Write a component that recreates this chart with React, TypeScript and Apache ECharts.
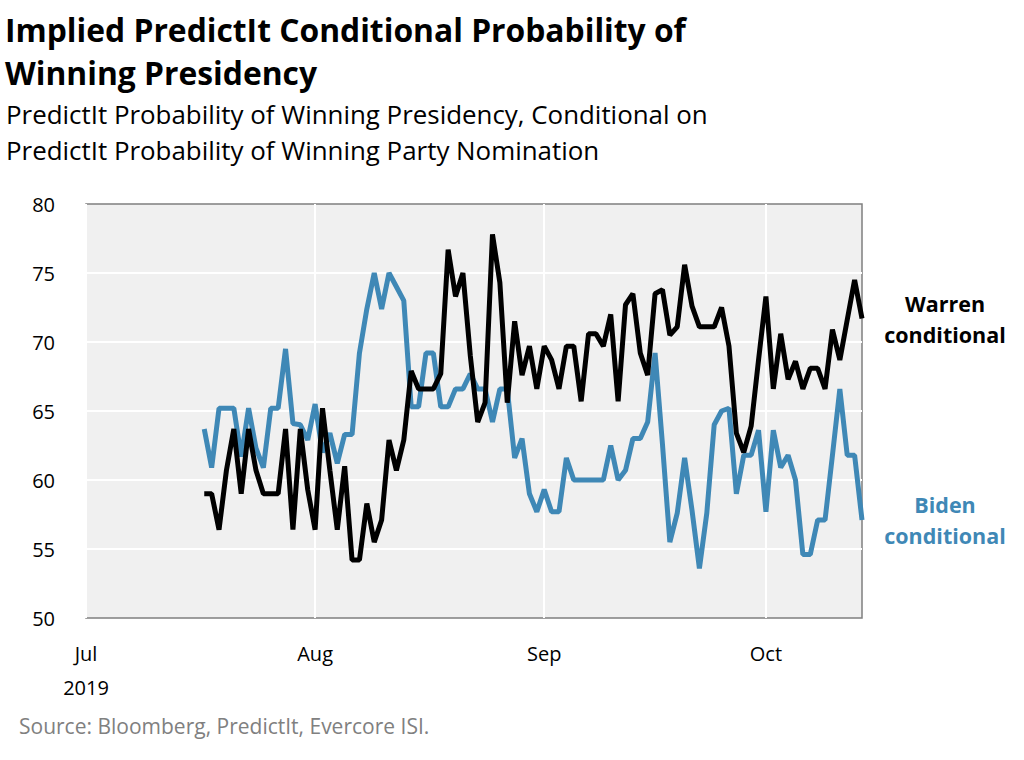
import React, { useEffect, useRef } from 'react';
import * as echarts from 'echarts';

const FONT = '"Open Sans", "Noto Sans", sans-serif';

const titleLines = ['Implied PredictIt Conditional Probability of', 'Winning Presidency'];
const subtitleLines = [
  'PredictIt Probability of Winning Presidency, Conditional on',
  'PredictIt Probability of Winning Party Nomination',
];
const sourceText = 'Source: Bloomberg, PredictIt, Evercore ISI.';

const firstDay = '2019-07-17';
const axisStart = '2019-07-01';
const axisEnd = '2019-10-14';
const monthNames = ['Jan', 'Feb', 'Mar', 'Apr', 'May', 'Jun', 'Jul', 'Aug', 'Sep', 'Oct', 'Nov', 'Dec'];
const yearLabel = '2019';

const yMin = 50;
const yMax = 80;
const yStep = 5;

const warrenName = 'Warren\nconditional';
const bidenName = 'Biden\nconditional';

const warren = [
  59.0, 59.0, 56.4, 60.7, 63.7, 59.0, 63.7, 60.7, 59.0, 59.0,
  59.0, 63.7, 56.4, 63.7, 59.3, 56.4, 65.2, 60.7, 56.4, 61.0,
  54.2, 54.2, 58.3, 55.5, 57.1, 62.9, 60.7, 62.9, 67.9, 66.6,
  66.6, 66.6, 67.7, 76.7, 73.3, 75.0, 69.0, 64.2, 65.6, 77.8,
  74.3, 65.6, 71.5, 67.6, 69.7, 66.6, 69.7, 68.7, 66.6, 69.7,
  69.7, 65.7, 70.6, 70.6, 69.7, 72.0, 65.7, 72.7, 73.5, 69.2,
  67.6, 73.5, 73.8, 70.5, 71.1, 75.6, 72.6, 71.1, 71.1, 71.1,
  72.5, 69.7, 63.4, 62.0, 63.9, 68.7, 73.3, 66.6, 70.6, 67.3,
  68.6, 66.6, 68.1, 68.1, 66.6, 70.9, 68.7, 71.6, 74.5, 71.7,
];

const biden = [
  63.7, 60.9, 65.2, 65.2, 65.2, 61.7, 65.2, 62.3, 60.9, 65.2,
  65.2, 69.5, 64.1, 64.0, 62.9, 65.5, 62.0, 63.4, 61.2, 63.3,
  63.3, 69.2, 72.4, 75.0, 72.4, 75.0, 74.0, 73.0, 65.3, 65.3,
  69.2, 69.2, 65.3, 65.3, 66.6, 66.6, 67.7, 66.6, 66.6, 64.2,
  66.6, 66.6, 61.6, 63.0, 59.0, 57.7, 59.3, 57.7, 57.7, 61.6,
  60.0, 60.0, 60.0, 60.0, 60.0, 62.5, 60.0, 60.7, 63.0, 63.0,
  64.2, 69.2, 62.6, 55.5, 57.6, 61.6, 57.8, 53.6, 57.6, 64.0,
  65.0, 65.2, 59.0, 61.8, 61.8, 63.6, 57.7, 63.6, 60.9, 61.8,
  60.0, 54.6, 54.6, 57.1, 57.1, 61.8, 66.6, 61.8, 61.8, 57.1,
];

const BLUE = '#3f88b6';
const BLACK = '#000000';
const DAY = 24 * 3600 * 1000;

function ts(s: string) {
  const [y, m, d] = s.split('-').map(Number);
  return Date.UTC(y, m - 1, d);
}

function pairs(values: number[]) {
  const t0 = ts(firstDay);
  return values.map((v, i) => [t0 + i * DAY, v]);
}

export default function App() {
  const ref = useRef<HTMLDivElement>(null);

  useEffect(() => {
    document.body.style.margin = '0';
    if (!ref.current) return;
    const chart = echarts.init(ref.current, undefined, { renderer: 'svg' });

    const endLabel = (text: string, color: string) => ({
      show: true,
      formatter: text,
      distance: 83,
      align: 'center',
      verticalAlign: 'middle',
      color,
      fontFamily: FONT,
      fontWeight: 'bold',
      fontSize: 21.5,
      lineHeight: 31,
    });

    const option: any = {
      animation: false,
      useUTC: true,
      textStyle: { fontFamily: FONT },
      title: [
        {
          text: titleLines.join('\n'),
          left: 5,
          top: 8,
          padding: 0,
          textStyle: { fontFamily: FONT, fontSize: 31.8, fontWeight: 'bold', lineHeight: 43, color: '#000' },
        },
        {
          text: subtitleLines.join('\n'),
          left: 6,
          top: 96,
          padding: 0,
          textStyle: { fontFamily: FONT, fontSize: 25.9, fontWeight: 'normal', lineHeight: 36, color: '#000' },
        },
        {
          text: sourceText,
          left: 19,
          top: 714,
          padding: 0,
          textStyle: { fontFamily: FONT, fontSize: 21, fontWeight: 'normal', lineHeight: 24, color: '#808080' },
        },
      ],
      grid: {
        left: 86,
        right: 162,
        top: 204,
        bottom: 142,
        show: true,
        backgroundColor: '#f0f0f0',
        borderColor: '#7f7f7f',
        borderWidth: 1.5,
        containLabel: false,
        outerBoundsMode: 'none',
      },
      xAxis: {
        type: 'time',
        min: ts(axisStart),
        max: ts(axisEnd),
        minInterval: 28 * DAY,
        maxInterval: 31 * DAY,
        axisLine: { show: false },
        axisTick: { show: false },
        splitLine: { show: true, showMinLine: false, showMaxLine: false, lineStyle: { color: '#ffffff', width: 2 } },
        axisLabel: {
          fontFamily: FONT,
          fontSize: 20,
          color: '#000',
          margin: 18,
          lineHeight: 34,
          hideOverlap: false,
          showMinLabel: true,
          showMaxLabel: false,
          formatter: (value: number) => {
            const d = new Date(value);
            if (d.getUTCDate() !== 1) return '';
            const m = d.getUTCMonth();
            const name = monthNames[m];
            return value === ts(axisStart) ? name + '\n' + yearLabel : name;
          },
        },
      },
      yAxis: {
        type: 'value',
        position: 'left',
        min: yMin,
        max: yMax,
        interval: yStep,
        axisLine: { show: false },
        axisTick: { show: false },
        splitLine: { show: true, showMinLine: false, showMaxLine: false, lineStyle: { color: '#ffffff', width: 2 } },
        axisLabel: { fontFamily: FONT, fontSize: 20, color: '#000', margin: 31 },
      },
      series: [
        {
          name: 'Biden conditional',
          type: 'line',
          data: pairs(biden),
          showSymbol: false,
          symbol: 'none',
          lineStyle: { color: BLUE, width: 5 },
          itemStyle: { color: BLUE },
          endLabel: endLabel(bidenName, BLUE),
          z: 2,
        },
        {
          name: 'Warren conditional',
          type: 'line',
          data: pairs(warren),
          showSymbol: false,
          symbol: 'none',
          lineStyle: { color: BLACK, width: 5 },
          itemStyle: { color: BLACK },
          endLabel: endLabel(warrenName, BLACK),
          z: 3,
        },
      ],
    };

    chart.setOption(option);
    return () => chart.dispose();
  }, []);

  return <div ref={ref} style={{ width: 1024, height: 760 }} />;
}
